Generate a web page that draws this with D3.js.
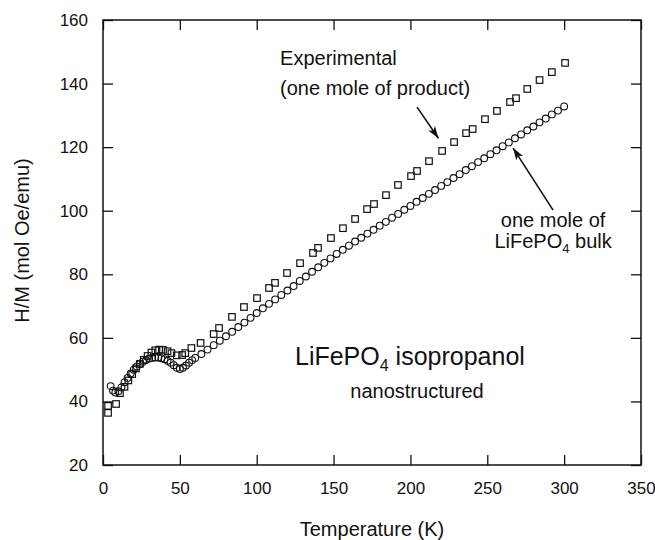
<!DOCTYPE html>
<html>
<head>
<meta charset="utf-8">
<script src="https://cdn.jsdelivr.net/npm/d3@7"></script>
<style>
  html, body { margin: 0; padding: 0; background: #fff; }
  svg text { font-family: "Liberation Sans", Arial, Helvetica, sans-serif; fill: #111; }
</style>
</head>
<body>
<svg id="chart" width="655" height="540"></svg>
<script>
// ---- Data ----
const xTicks = [0, 50, 100, 150, 200, 250, 300, 350];
const yTicks = [20, 40, 60, 80, 100, 120, 140, 160];

// Experimental (one mole of product) — open squares
const expT = [3.3, 3.3, 8.5, 11, 14, 16.5, 19, 21.5, 24, 26.5, 29, 31.5, 34, 36.5, 39, 42, 44.5, 48, 51.5, 53.5, 57.5, 63.5, 72, 75.5, 83.9, 91.7, 100.2, 108, 111.9, 119.7, 128.2, 136.6, 139.9, 148.3, 156.1, 164, 171.8, 176.3, 184.1, 191.9, 200.4, 204.3, 212.1, 220.6, 228.4, 236.2, 240.5, 248.5, 256.3, 264.8, 268.7, 276, 284, 292, 300.6];
const expV = [36.4, 38.6, 39.2, 42.6, 44.6, 46.6, 48.6, 50.4, 51.8, 53.1, 54.3, 55.4, 56.1, 56.3, 56.2, 55.8, 55.2, 54.5, 54.6, 55.2, 56.8, 58.4, 61.2, 63.1, 66.6, 69.7, 72.5, 75.7, 77.3, 80.4, 83.5, 86.7, 88.3, 91.4, 94.5, 97.4, 100.5, 102.1, 104.9, 108.1, 110.9, 112.5, 115.6, 118.8, 121.6, 124.4, 125.7, 128.8, 131.4, 134.2, 135.4, 138.3, 141.1, 143.6, 146.5];

// One mole of LiFePO4 bulk — open circles
const bulkT = [5, 6.5, 8, 10, 12, 14, 16, 18, 20, 22, 24, 26, 28, 30, 32, 34, 36, 38, 40, 42, 44, 46, 48, 50, 52, 54, 56, 58,
  60, 64, 68, 72, 76, 80, 84, 88, 92, 96, 100, 104, 108, 112, 116, 120, 124, 128, 132, 136, 140, 144, 148, 152, 156, 160,
  164, 168, 172, 176, 180, 184, 188, 192, 196, 200, 204, 208, 212, 216, 220, 224, 228, 232, 236, 240, 244, 248, 252, 256,
  260, 264, 268, 272, 276, 280, 284, 288, 292, 296, 300];
const bulkV = [44.8, 43.4, 42.8, 43.2, 44.4, 46.0, 47.4, 48.8, 50.0, 51.0, 51.8, 52.5, 53.0, 53.5, 53.7, 53.8, 53.8, 53.6, 53.3, 52.8, 52.2, 51.4, 50.6, 50.2, 50.6, 51.3, 52.2, 53.0,
  53.7, 54.9, 56.3, 57.7, 59.1, 60.5, 61.9, 63.4, 64.8, 66.3, 67.8, 69.3, 70.7, 72.1, 73.5, 74.9, 76.3, 77.9, 79.3, 80.8, 82.2, 83.6, 85.0, 86.4, 87.7, 89.0,
  90.3, 91.5, 92.8, 94.0, 95.3, 96.5, 97.8, 99.0, 100.3, 101.5, 102.8, 104.0, 105.3, 106.5, 107.8, 109.0, 110.3, 111.5, 112.8, 114.0, 115.3, 116.5, 117.8, 119.0,
  120.3, 121.5, 122.8, 124.0, 125.3, 126.5, 127.8, 129.0, 130.3, 131.5, 132.8];

// ---- Layout ----
const W = 655, H = 540;
const margin = { left: 103, right: 14, top: 20, bottom: 75 };
const iw = W - margin.left - margin.right;   // 538
const ih = H - margin.top - margin.bottom;   // 445

const svg = d3.select("#chart");
svg.append("rect").attr("width", W).attr("height", H).attr("fill", "#fff");
const g = svg.append("g").attr("transform", `translate(${margin.left},${margin.top})`);

const x = d3.scaleLinear().domain([0, 350]).range([0, iw]);
const y = d3.scaleLinear().domain([20, 160]).range([ih, 0]);

// Axes (ticks pointing inward on all four sides)
const axStyle = sel => {
  sel.selectAll(".domain").remove();
  sel.selectAll(".tick line").attr("stroke", "#111").attr("stroke-width", 1.3);
  sel.selectAll(".tick text").attr("fill", "#111").style("font-size", "17px")
     .style("font-family", '"Liberation Sans", Arial, sans-serif');
};
g.append("g").attr("transform", `translate(0,${ih})`)
  .call(d3.axisBottom(x).tickValues(xTicks).tickSize(-10).tickSizeOuter(0).tickPadding(17).tickFormat(d3.format("d")))
  .call(axStyle);
g.append("g")
  .call(d3.axisLeft(y).tickValues(yTicks).tickSize(-10).tickSizeOuter(0).tickPadding(15).tickFormat(d3.format("d")))
  .call(axStyle);
g.append("g")
  .call(d3.axisTop(x).tickValues(xTicks).tickSize(-10).tickSizeOuter(0).tickFormat(""))
  .call(axStyle);
g.append("g").attr("transform", `translate(${iw},0)`)
  .call(d3.axisRight(y).tickValues(yTicks).tickSize(-10).tickSizeOuter(0).tickFormat(""))
  .call(axStyle);

// Frame
g.append("rect").attr("x", 0).attr("y", 0).attr("width", iw).attr("height", ih)
  .attr("fill", "none").attr("stroke", "#111").attr("stroke-width", 1.5);

// Axis titles
svg.append("text")
  .attr("x", margin.left + iw / 2).attr("y", 536)
  .attr("text-anchor", "middle").style("font-size", "20px")
  .text("Temperature (K)");
svg.append("text")
  .attr("transform", `translate(29,${margin.top + ih / 2 - 2}) rotate(-90)`)
  .attr("text-anchor", "middle").style("font-size", "20px")
  .text("H/M (mol Oe/emu)");

// Data: squares (experimental)
const sq = 6.5;
g.append("g").selectAll("rect")
  .data(d3.zip(expT, expV))
  .join("rect")
  .attr("x", d => x(d[0]) - sq / 2)
  .attr("y", d => y(d[1]) - sq / 2)
  .attr("width", sq).attr("height", sq)
  .attr("fill", "none").attr("stroke", "#111").attr("stroke-width", 1.2);

// Data: circles (bulk)
g.append("g").selectAll("circle")
  .data(d3.zip(bulkT, bulkV))
  .join("circle")
  .attr("cx", d => x(d[0]))
  .attr("cy", d => y(d[1]))
  .attr("r", 3.4)
  .attr("fill", "none").attr("stroke", "#111").attr("stroke-width", 1.1);

// Arrowhead marker
svg.append("defs").append("marker")
  .attr("id", "arrow").attr("viewBox", "0 0 12 8")
  .attr("refX", 12).attr("refY", 4)
  .attr("markerWidth", 12).attr("markerHeight", 8)
  .attr("markerUnits", "userSpaceOnUse")
  .attr("orient", "auto")
  .append("path").attr("d", "M0,0 L12,4 L0,8 L3,4 Z").attr("fill", "#111");

// Annotations (positioned in data units)
const ann = g.append("g");
ann.append("text").attr("x", x(115.2)).attr("y", y(145.7)).style("font-size", "20px").text("Experimental");
ann.append("text").attr("x", x(115.2)).attr("y", y(136.3)).style("font-size", "20px").text("(one mole of product)");
ann.append("line")
  .attr("x1", x(204.3)).attr("y1", y(132.6)).attr("x2", x(218.2)).attr("y2", y(122.8))
  .attr("stroke", "#111").attr("stroke-width", 1.6).attr("marker-end", "url(#arrow)");

ann.append("text").attr("x", x(292.8)).attr("y", y(94.9)).attr("text-anchor", "middle")
  .style("font-size", "20px").text("one mole of");
const t2 = ann.append("text").attr("x", x(292.8)).attr("y", y(88.2)).attr("text-anchor", "middle")
  .style("font-size", "20px");
t2.append("tspan").text("LiFePO");
t2.append("tspan").attr("dy", 5).style("font-size", "13px").text("4");
t2.append("tspan").attr("dy", -5).text(" bulk");
ann.append("line")
  .attr("x1", x(292.8)).attr("y1", y(100.2)).attr("x2", x(266.8)).attr("y2", y(119.7))
  .attr("stroke", "#111").attr("stroke-width", 1.6).attr("marker-end", "url(#arrow)");

const t3 = ann.append("text").attr("x", x(124.9)).attr("y", y(51.5)).style("font-size", "25px");
t3.append("tspan").text("LiFePO");
t3.append("tspan").attr("dy", 6).style("font-size", "16px").text("4");
t3.append("tspan").attr("dy", -6).text(" isopropanol");
ann.append("text").attr("x", x(204.3)).attr("y", y(41.1)).attr("text-anchor", "middle")
  .style("font-size", "20px").text("nanostructured");
</script>
</body>
</html>
